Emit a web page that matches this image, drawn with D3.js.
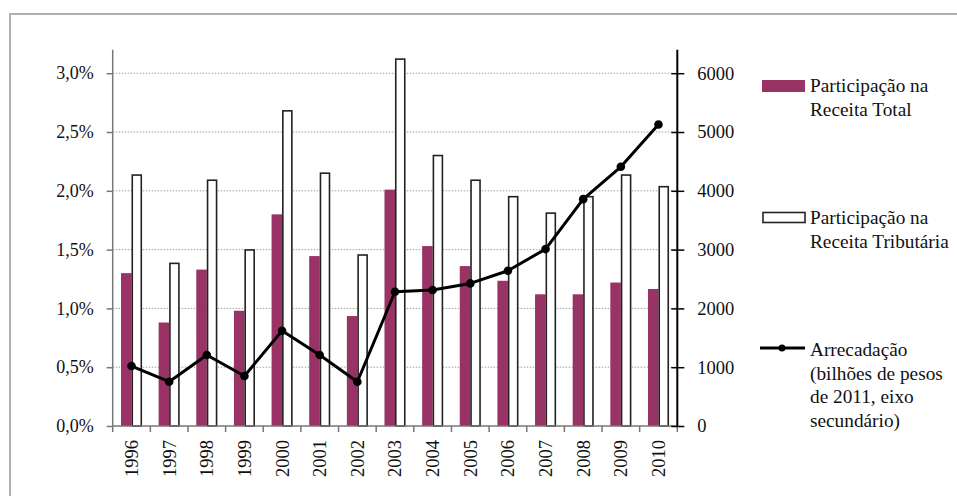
<!DOCTYPE html>
<html><head><meta charset="utf-8">
<script src="https://cdn.jsdelivr.net/npm/d3@7"></script>
<style>html,body{margin:0;padding:0;background:#fff;}</style>
</head><body>
<svg id="c" width="957" height="496"></svg>
<script>
const years = ["1996","1997","1998","1999","2000","2001","2002","2003","2004","2005","2006","2007","2008","2009","2010"];
const receitaTotal = [1.30,0.88,1.33,0.98,1.80,1.445,0.935,2.01,1.53,1.36,1.235,1.12,1.12,1.22,1.165];
const receitaTributaria = [2.134,1.383,2.09,1.497,2.68,2.15,1.454,3.12,2.30,2.09,1.95,1.81,1.95,2.134,2.035];
const arrecadacao = [1020,753,1207,850,1620,1207,753,2283,2312,2425,2640,3009,3858,4408,5128];
const leftTicks = [0,0.5,1.0,1.5,2.0,2.5,3.0];
const rightTicks = [0,1000,2000,3000,4000,5000,6000];
const legendLabels = [
  ["Participação na","Receita Total"],
  ["Participação na","Receita Tributária"],
  ["Arrecadação","(bilhões de pesos","de 2011, eixo","secundário)"]
];

const svg = d3.select("#c");
const font = "'Liberation Serif','Times New Roman',serif";
const L = 112.7, R = 677.3, B = 426, T = 49.7;

// outer border
svg.append("path").attr("d","M10,496 L10,14 L957,14").attr("fill","none").attr("stroke","#b0b0b0").attr("stroke-width",2);

const x = d3.scaleBand().domain(years).range([L,R]).padding(0);
const x1 = d3.scaleBand().domain(["t","r"]).range([0,x.bandwidth()]).paddingInner(0).paddingOuter(0.79);
const y = d3.scaleLinear().domain([0,3.2]).range([B,T]);
const y2 = d3.scaleLinear().domain([0,6400]).range([B,T]);

// gridlines
svg.append("g").selectAll("line").data(leftTicks.filter(d=>d>0)).join("line")
  .attr("x1",L).attr("x2",R).attr("y1",d=>y(d)).attr("y2",d=>y(d))
  .attr("stroke","#a0a0a0").attr("stroke-width",1).attr("stroke-dasharray","1.5,1.5");

// bars
svg.append("g").selectAll("rect").data(years).join("rect")
  .attr("x",d=>x(d)+x1("t")).attr("width",x1.bandwidth())
  .attr("y",(d,i)=>y(receitaTotal[i])).attr("height",(d,i)=>B-y(receitaTotal[i]))
  .attr("fill","#993366");
svg.append("g").selectAll("rect").data(years).join("rect")
  .attr("x",d=>x(d)+x1("r")+0.75).attr("width",x1.bandwidth()-1.5)
  .attr("y",(d,i)=>y(receitaTributaria[i])).attr("height",(d,i)=>B-y(receitaTributaria[i]))
  .attr("fill","#fff").attr("stroke","#222").attr("stroke-width",1.6);

// axes
const gl = svg.append("g").attr("transform",`translate(${L},0)`)
  .call(d3.axisLeft(y).tickValues(leftTicks).tickSize(6).tickPadding(13)
    .tickFormat(d=>d.toFixed(1).replace(".",",")+"%"));
gl.select(".domain").attr("stroke","#777").attr("stroke-width",1.5).attr("d",`M0,${B}V${T}`);
gl.selectAll(".tick line").attr("stroke","#777").attr("stroke-width",1.5);
gl.selectAll("text").attr("font-family",font).attr("font-size",18).attr("fill","#111");

const gx = svg.append("g").attr("transform",`translate(0,${B})`);
gx.append("line").attr("x1",L).attr("x2",R).attr("y1",0).attr("y2",0).attr("stroke","#777").attr("stroke-width",1.5);
gx.selectAll("line.t").data(d3.range(years.length+1)).join("line").attr("class","t")
  .attr("x1",i=>L+i*x.step()).attr("x2",i=>L+i*x.step()).attr("y1",0).attr("y2",6)
  .attr("stroke","#777").attr("stroke-width",1.5);
gx.selectAll("text").data(years).join("text")
  .attr("transform",d=>`translate(${x(d)+x.bandwidth()/2},14) rotate(-90)`)
  .attr("text-anchor","end").attr("dy","0.35em")
  .attr("font-family",font).attr("font-size",18.5).attr("fill","#111").text(d=>d);

const gr = svg.append("g").attr("transform",`translate(${R},0)`)
  .call(d3.axisRight(y2).tickValues(rightTicks).tickSize(7).tickPadding(13).tickFormat(d3.format("d")));
gr.select(".domain").attr("stroke","#000").attr("stroke-width",2).attr("d",`M0,${B}V${T}`);
gr.selectAll(".tick line").attr("stroke","#000").attr("stroke-width",1.5).attr("x1",-6);
gr.selectAll("text").attr("font-family",font).attr("font-size",18.5).attr("fill","#111");

// line
const line = d3.line().x((d,i)=>x(years[i])+x.bandwidth()/2).y(d=>y2(d));
svg.append("path").datum(arrecadacao).attr("d",line).attr("fill","none").attr("stroke","#000").attr("stroke-width",3).attr("stroke-linejoin","round");
svg.append("g").selectAll("circle").data(arrecadacao).join("circle")
  .attr("cx",(d,i)=>x(years[i])+x.bandwidth()/2).attr("cy",d=>y2(d)).attr("r",4.3).attr("fill","#000");

// legend
const lg = svg.append("g");
lg.append("rect").attr("x",762).attr("y",80).attr("width",43).attr("height",12).attr("fill","#993366");
lg.append("rect").attr("x",763).attr("y",212.5).attr("width",42).attr("height",10).attr("fill","#fff").attr("stroke","#222").attr("stroke-width",1.6);
lg.append("line").attr("x1",760).attr("x2",805).attr("y1",348).attr("y2",348).attr("stroke","#000").attr("stroke-width",3);
lg.append("circle").attr("cx",782).attr("cy",348).attr("r",3.5).attr("fill","#000");
const baseY = [92,224,356];
legendLabels.forEach((lines,k)=>{
  const t = lg.append("text").attr("x",810).attr("y",baseY[k]).attr("font-family",font).attr("font-size",19.3).attr("fill","#111");
  lines.forEach((s,j)=>t.append("tspan").attr("x",810).attr("dy",j===0?0:23.5).text(s));
});
</script>
</body></html>
